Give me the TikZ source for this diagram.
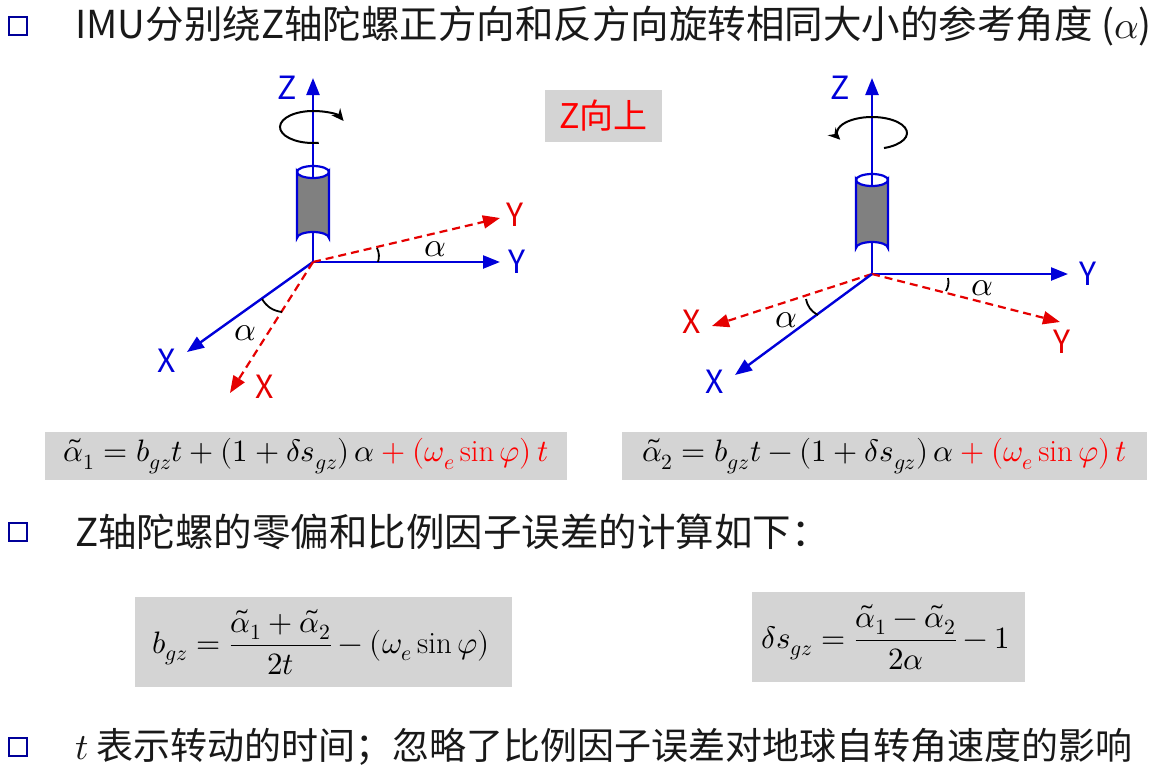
\documentclass[tikz,border=0pt]{standalone}
\usepackage{amsmath}
\usepackage{fontspec}
\usepackage{unicode-math}
\setmathfont{Latin Modern Math}
\newfontfamily\cjk{Noto Sans CJK SC}
\usetikzlibrary{arrows.meta}
\tikzset{
  ax/.style={blue!85!black, line width=2.4pt, -{Triangle[length=17pt,width=13pt]}},
  rax/.style={red!90!black, line width=2.2pt, dash pattern=on 8pt off 5pt, -{Triangle[length=17pt,width=13pt]}},
  blab/.style={text=blue!85!black, font=\cjk\fontsize{32}{32}\selectfont, inner sep=0pt},
  rlab/.style={text=red!90!black, font=\cjk\fontsize{32}{32}\selectfont, inner sep=0pt},
  alab/.style={font=\fontsize{34}{34}\selectfont, inner sep=0pt},
  arcs/.style={black, line width=1.8pt},
  rot/.style={black, line width=2pt, -{Stealth[length=12pt,width=11pt]}},
  cyl/.style={fill=black!50, draw=blue!85!black, line width=2.2pt},
  bul/.style={draw=blue!60!black, line width=2.4pt, minimum size=18pt, inner sep=0pt},
  txt/.style={anchor=west, font=\cjk\fontsize{38.5}{38.5}\selectfont, text=black!90, inner sep=0pt},
  gbox/.style={fill=black!17, inner sep=0pt},
  fml/.style={font=\fontsize{31}{31}\selectfont, inner sep=0pt},
}
\begin{document}
\begin{tikzpicture}[x=1pt,y=-1pt]
\useasboundingbox (0,0) rectangle (1170,774);
% bullets and text
\node[bul] (b1) at (18,26) {};
\node[txt] (t1) at (75,26) {IMU分别绕Z轴陀螺正方向和反方向旋转相同大小的参考角度 ($\alpha$)};
\node[bul] (b2) at (18,532) {};
\node[txt] (t2) at (75,532) {Z轴陀螺的零偏和比例因子误差的计算如下：};
\node[bul] (b3) at (18,747) {};
\node[txt, font=\cjk\fontsize{37}{37}\selectfont] (t3) at (75,747) {$t$ 表示转动的时间；忽略了比例因子误差对地球自转角速度的影响};
% Z up box
\node[gbox, minimum width=117pt, minimum height=52pt] (zb) at (603.5,116) {};
\node[text=red, font=\cjk\fontsize{34}{34}\selectfont] (zt) at (603.5,116) {Z向上};
% formula boxes
\node[gbox, minimum width=522pt, minimum height=48pt] (f1b) at (306,456) {};
\node[fml] (f1) at (306,456) {$\tilde\alpha_1 = b_{gz}t + (1+\delta s_{gz})\,\alpha \textcolor{red}{{}+(\omega_e\sin\varphi)\,t}$};
\node[gbox, minimum width=525pt, minimum height=48pt] (f2b) at (884.5,456) {};
\node[fml] (f2) at (884.5,456) {$\tilde\alpha_2 = b_{gz}t - (1+\delta s_{gz})\,\alpha \textcolor{red}{{}+(\omega_e\sin\varphi)\,t}$};
\node[gbox, minimum width=377pt, minimum height=90pt] (f3b) at (323.5,642) {};
\node[fml] (f3) at (321,642) {$b_{gz} = \dfrac{\tilde\alpha_1+\tilde\alpha_2}{2t} - (\omega_e\sin\varphi)$};
\node[gbox, minimum width=273pt, minimum height=90pt] (f4b) at (888.5,637) {};
\node[fml] (f4) at (886,637) {$\delta s_{gz} = \dfrac{\tilde\alpha_1-\tilde\alpha_2}{2\alpha} - 1$};

% ---------- left diagram ----------
\coordinate (o1) at (313,262);
\coordinate (z1) at (313,78);
\coordinate (y1) at (500,262);
\coordinate (ry1) at (500,218);
\coordinate (x1) at (187,352);
\coordinate (rx1) at (230,393);
\draw[ax] (o1) -- (z1);
\node[blab] (lz1) at (287,88) {Z};
\draw[rot] (313,127) ++(-80:33pt and 16pt) arc[start angle=-80,end angle=-338,x radius=33pt,y radius=16pt];
\filldraw[cyl] (297,172) -- (297,238) arc[start angle=180,end angle=0,x radius=16pt,y radius=6pt] -- (329,172) arc[start angle=0,end angle=-180,x radius=16pt,y radius=6pt] -- cycle;
\draw[blue!85!black, line width=2.2pt] (297,172) arc[start angle=180,end angle=0,x radius=16pt,y radius=6pt];
\draw[ax] (o1) -- (y1);
\node[blab] (ly1) at (517,262) {Y};
\draw[rax] (o1) -- (ry1);
\node[rlab] (lry1) at (515,215) {Y};
\draw[ax] (o1) -- (x1);
\node[blab] (lx1) at (167,361) {X};
\draw[rax] (o1) -- (rx1);
\node[rlab] (lrx1) at (265,387) {X};
\draw[arcs] (377,248) to[bend left=20] (378,262);
\draw[arcs] (262,299) to[bend right=25] (282,312);
\node[alab] (a11) at (435,249) {$\alpha$};
\node[alab] (a12) at (245,333) {$\alpha$};

% ---------- right diagram ----------
\coordinate (o2) at (872,274);
\coordinate (z2) at (872,78);
\coordinate (y2) at (1068,274);
\coordinate (ry2) at (1060,322);
\coordinate (rx2) at (712,326);
\coordinate (x2) at (735,375);
\draw[ax] (o2) -- (z2);
\node[blab] (lz2) at (840,88) {Z};
\draw[rot] (872,133) ++(-70:35pt and 16pt) arc[start angle=-70,end angle=205,x radius=35pt,y radius=16pt];
\filldraw[cyl] (856,180) -- (856,248) arc[start angle=180,end angle=0,x radius=16pt,y radius=6pt] -- (888,180) arc[start angle=0,end angle=-180,x radius=16pt,y radius=6pt] -- cycle;
\draw[blue!85!black, line width=2.2pt] (856,180) arc[start angle=180,end angle=0,x radius=16pt,y radius=6pt];
\draw[ax] (o2) -- (y2);
\node[blab] (ly2) at (1088,274) {Y};
\draw[rax] (o2) -- (ry2);
\node[rlab] (lry2) at (1062,342) {Y};
\draw[rax] (o2) -- (rx2);
\node[rlab] (lrx2) at (692,322) {X};
\draw[ax] (o2) -- (x2);
\node[blab] (lx2) at (715,382) {X};
\draw[arcs] (948,278) to[bend left=20] (946,291);
\draw[arcs] (806,299) to[bend right=25] (818,315);
\node[alab] (a21) at (982,288) {$\alpha$};
\node[alab] (a22) at (786,320) {$\alpha$};
\end{tikzpicture}
\end{document}
